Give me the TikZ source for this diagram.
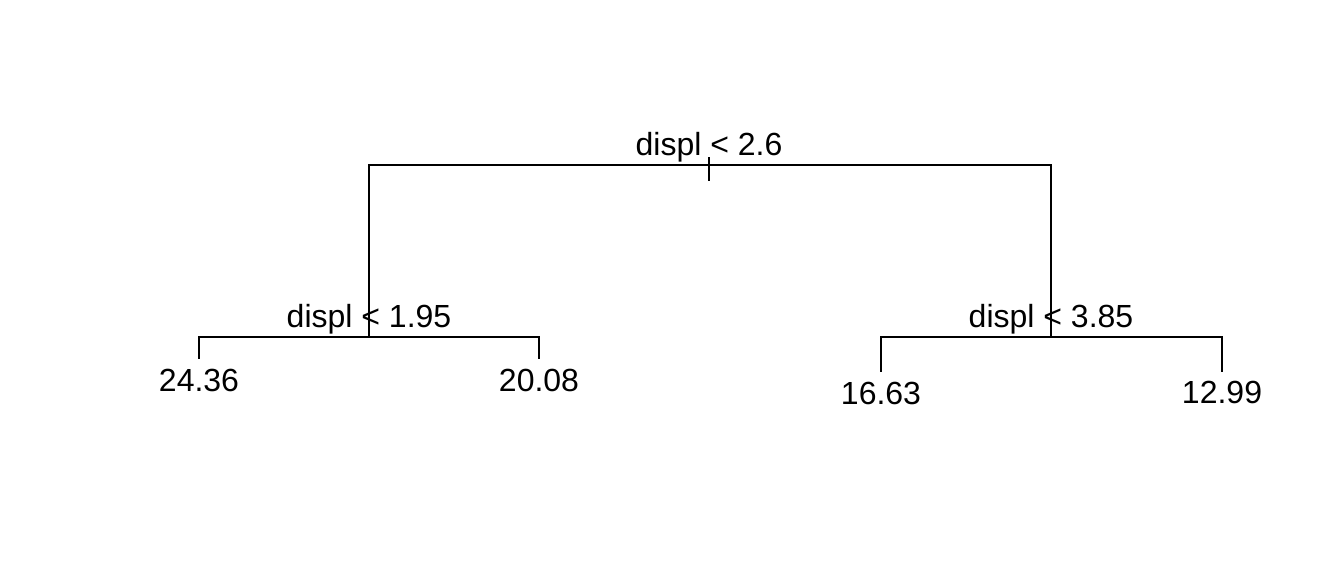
\documentclass[tikz,border=0pt]{standalone}
\usepackage{fontspec}
\setmainfont{Liberation Sans}
\begin{document}
\begin{tikzpicture}[x=0.75pt,y=-0.75pt,
  edge/.style={line width=1.5pt,line cap=rect},
  lbl/.style={anchor=base,inner sep=0pt,font=\fontsize{24pt}{29pt}\selectfont}]
\useasboundingbox (0,0) rectangle (1344,576);
% coordinates
\coordinate (rt) at (709,165);
\coordinate (rtick) at (709,180);
\coordinate (rl) at (369,165);
\coordinate (rr) at (1051,165);
\coordinate (L) at (369,337);
\coordinate (R) at (1051,337);
\coordinate (Ll) at (199,337);
\coordinate (Lr) at (539,337);
\coordinate (Rl) at (881,337);
\coordinate (Rr) at (1222,337);
\coordinate (l1) at (199,358);
\coordinate (l2) at (539,358);
\coordinate (l3) at (881,371);
\coordinate (l4) at (1222,371);
% edges
\draw[edge] (rl) -- (rr);
\draw[edge] (rt) -- (709,158) (rt) -- (rtick);
\draw[edge] (rl) -- (L);
\draw[edge] (rr) -- (R);
\draw[edge] (Ll) -- (Lr);
\draw[edge] (Rl) -- (Rr);
\draw[edge] (Ll) -- (l1);
\draw[edge] (Lr) -- (l2);
\draw[edge] (Rl) -- (l3);
\draw[edge] (Rr) -- (l4);
% labels
\node[lbl] (s0) at (709,155) {displ < 2.6};
\node[lbl] (s1) at (369,327) {displ < 1.95};
\node[lbl] (s2) at (1051,327) {displ < 3.85};
\node[lbl] (t1) at (199,391) {24.36};
\node[lbl] (t2) at (539,391) {20.08};
\node[lbl] (t3) at (881,404) {16.63};
\node[lbl] (t4) at (1222,403) {12.99};
\end{tikzpicture}
\end{document}
